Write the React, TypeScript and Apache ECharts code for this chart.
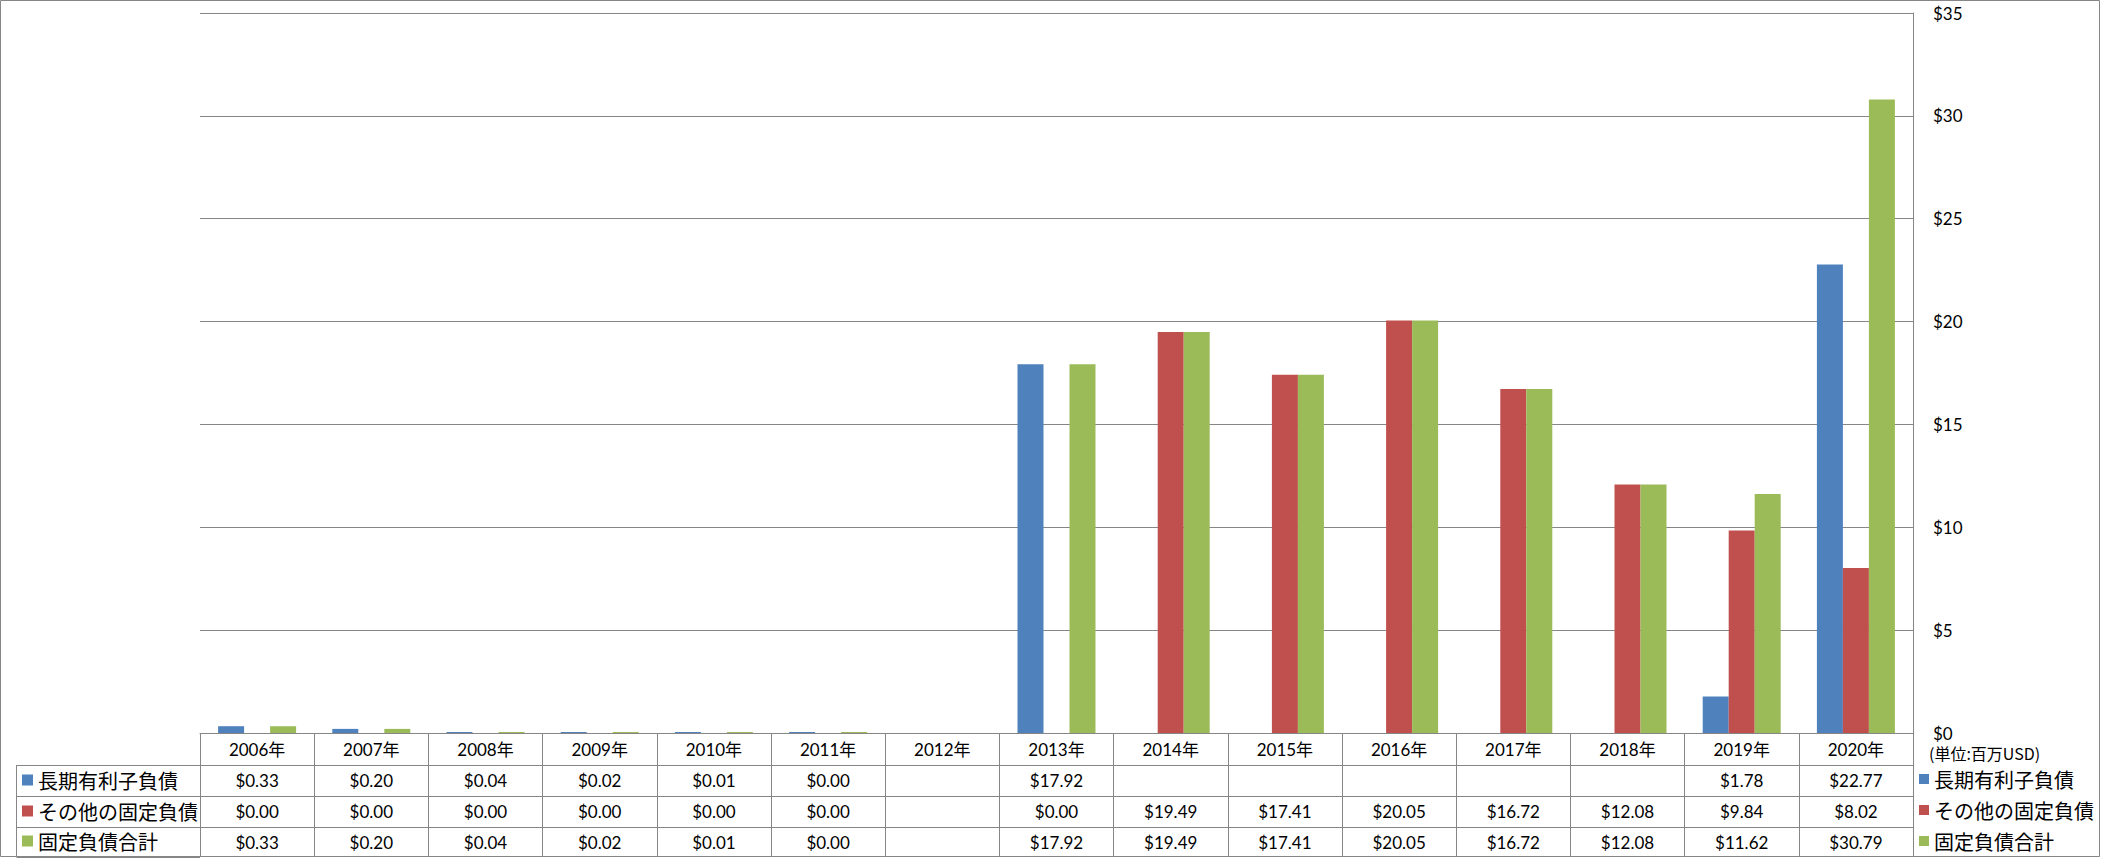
import React, { useEffect, useRef } from 'react';
import * as echarts from 'echarts';

const years = ['2006年', '2007年', '2008年', '2009年', '2010年', '2011年', '2012年', '2013年', '2014年', '2015年', '2016年', '2017年', '2018年', '2019年', '2020年'];
const seriesNames = ['長期有利子負債', 'その他の固定負債', '固定負債合計'];
const longTermDebt = [0.33, 0.2, 0.04, 0.02, 0.01, 0.0, null, 17.92, null, null, null, null, null, 1.78, 22.77];
const otherFixedLiab = [0.0, 0.0, 0.0, 0.0, 0.0, 0.0, null, 0.0, 19.49, 17.41, 20.05, 16.72, 12.08, 9.84, 8.02];
const totalFixedLiab = [0.33, 0.2, 0.04, 0.02, 0.01, 0.0, null, 17.92, 19.49, 17.41, 20.05, 16.72, 12.08, 11.62, 30.79];
const seriesColors = ['#4F81BD', '#C0504D', '#9BBB59'];
const seriesMinHeights = [1, 0, 1];
const valueMin = 0;
const valueMax = 35;
const valueInterval = 5;
const unitLabel = '(単位:百万USD)';

const GRAY = '#868686';
const NUM_FONT = "Lato, 'Noto Sans CJK JP', sans-serif";
const JP_FONT = "'Noto Sans CJK JP', sans-serif";

const fmt = (v: number | null) => (v == null ? '' : '$' + v.toFixed(2));

export default function App() {
  const ref = useRef<HTMLDivElement>(null);
  useEffect(() => {
    if (!ref.current) return;
    const chart = echarts.init(ref.current, null, { renderer: 'svg' });
    const rows = [longTermDebt, otherFixedLiab, totalFixedLiab];
    const rowOffsets = [32, 63, 94];
    const rowCenters = [780, 811, 841];
    const tableLeft = 16.5;
    const plotLeft = 200;
    const rowLines = [765, 796, 827, 857];

    const graphics: any[] = [
      {
        type: 'rect',
        shape: { x: 0.5, y: 0.5, width: 2099, height: 856 },
        style: { fill: 'none', stroke: GRAY, lineWidth: 1 },
        silent: true,
      },
      ...rowLines.map((y) => ({
        type: 'line',
        shape: { x1: tableLeft, y1: y + 0.5, x2: plotLeft, y2: y + 0.5 },
        style: { stroke: GRAY, lineWidth: 1 },
        silent: true,
      })),
      {
        type: 'line',
        shape: { x1: tableLeft, y1: 765, x2: tableLeft, y2: 857 },
        style: { stroke: GRAY, lineWidth: 1 },
        silent: true,
      },
      ...seriesNames.flatMap((name, i) => [
        {
          type: 'rect',
          shape: { x: 22, y: rowCenters[i] - 5.5, width: 11, height: 11 },
          style: { fill: seriesColors[i] },
          silent: true,
        },
        {
          type: 'text',
          x: 38,
          y: rowCenters[i],
          style: { text: name, fontSize: 20, fontFamily: JP_FONT, fill: '#000', verticalAlign: 'middle', align: 'left' },
          silent: true,
        },
      ]),
      {
        type: 'text',
        x: 1929,
        y: 753,
        style: { text: unitLabel, fontSize: 16, fontFamily: JP_FONT, fill: '#000', verticalAlign: 'middle', align: 'left' },
        silent: true,
      },
    ];

    const option: any = {
      animation: false,
      backgroundColor: '#fff',
      grid: { left: 200, right: 188, top: 13, bottom: 125, containLabel: false, outerBoundsMode: 'none' },
      legend: {
        orient: 'vertical',
        left: 1919,
        top: 769,
        padding: 0,
        itemWidth: 10,
        itemHeight: 10,
        itemGap: 11,
        icon: 'rect',
        data: seriesNames,
        textStyle: { fontSize: 20, fontFamily: JP_FONT, color: '#000' },
      },
      xAxis: [
        {
          type: 'category',
          data: years,
          position: 'bottom',
          axisLine: { show: true, onZero: false, lineStyle: { color: GRAY } },
          axisTick: { show: true, length: 124, interval: 0, lineStyle: { color: GRAY } },
          axisLabel: { interval: 0, margin: 16, verticalAlign: 'middle', fontSize: 17, color: '#000', fontFamily: NUM_FONT },
          splitLine: { show: false },
        },
        ...rows.map((row, i) => ({
          type: 'category',
          data: years,
          position: 'bottom',
          offset: rowOffsets[i],
          axisLine: { show: true, onZero: false, lineStyle: { color: GRAY } },
          axisTick: { show: false },
          axisLabel: {
            interval: 0,
            margin: 15.5,
            verticalAlign: 'middle',
            fontSize: 17,
            color: '#000',
            fontFamily: NUM_FONT,
            formatter: (_v: string, idx: number) => fmt(row[idx] as number | null),
          },
          splitLine: { show: false },
        })),
      ],
      yAxis: {
        type: 'value',
        position: 'right',
        min: valueMin,
        max: valueMax,
        interval: valueInterval,
        axisLine: { show: true, lineStyle: { color: GRAY } },
        axisTick: { show: false },
        axisLabel: { margin: 20, fontSize: 17, color: '#000', fontFamily: NUM_FONT, formatter: (v: number) => '$' + v },
        splitLine: { show: true, lineStyle: { color: GRAY, width: 1 } },
      },
      series: rows.map((row, i) => ({
        name: seriesNames[i],
        type: 'bar',
        xAxisIndex: 0,
        data: row,
        barWidth: 26,
        barGap: '0%',
        barMinHeight: seriesMinHeights[i],
        itemStyle: { color: seriesColors[i] },
      })),
      graphic: graphics,
    };
    chart.setOption(option);
    return () => chart.dispose();
  }, []);
  return (
    <div
      ref={ref}
      style={{ position: 'absolute', left: 0, top: 0, width: 2101, height: 858, background: '#fff' }}
    />
  );
}
